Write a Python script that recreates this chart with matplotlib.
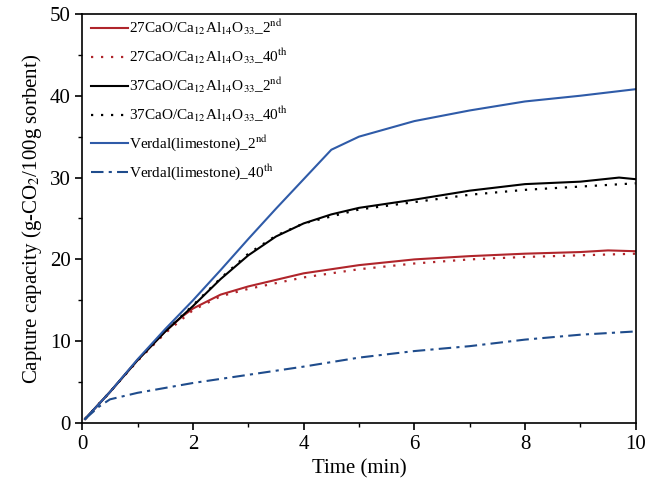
import matplotlib
matplotlib.use("Agg")
import matplotlib.pyplot as plt
from matplotlib.ticker import MultipleLocator

plt.rcParams['font.family'] = ['Liberation Serif', 'DejaVu Serif']
plt.rcParams['mathtext.fontset'] = 'stix'

# time axis (min) for each series
t_27_2nd = [0.05, 0.5, 1.0, 1.5, 1.8, 2.0, 2.5, 3.0, 3.5, 4.0, 4.5, 5.0, 6.0, 7.0, 8.0, 9.0, 9.5, 10.0]
cap_27_2nd = [0.5, 3.8, 7.7, 11.2, 13.0, 14.0, 15.7, 16.7, 17.5, 18.3, 18.8, 19.3, 20.0, 20.4, 20.7, 20.9, 21.1, 21.0]

t_27_40th = [0.05, 0.5, 1.0, 1.5, 2.0, 2.5, 3.0, 3.5, 4.0, 5.0, 6.0, 7.0, 8.0, 9.0, 10.0]
cap_27_40th = [0.5, 3.8, 7.6, 11.0, 13.8, 15.5, 16.4, 17.1, 17.8, 18.8, 19.5, 20.0, 20.3, 20.5, 20.7]

t_37_2nd = [0.05, 0.5, 1.0, 1.5, 2.0, 2.5, 3.0, 3.5, 4.0, 4.5, 5.0, 6.0, 7.0, 8.0, 9.0, 9.7, 10.0]
cap_37_2nd = [0.5, 3.8, 7.7, 11.2, 14.3, 17.6, 20.5, 22.8, 24.4, 25.5, 26.3, 27.3, 28.4, 29.2, 29.5, 30.0, 29.8]

t_37_40th = [0.05, 0.5, 1.0, 1.5, 2.0, 2.5, 3.0, 3.5, 4.0, 5.0, 6.0, 7.0, 8.0, 9.0, 10.0]
cap_37_40th = [0.5, 3.8, 7.7, 11.2, 14.4, 17.7, 20.7, 22.9, 24.4, 26.1, 27.0, 27.9, 28.5, 28.9, 29.3]

t_v_2nd = [0.05, 0.5, 1.0, 1.5, 2.0, 2.5, 3.0, 3.5, 4.0, 4.5, 5.0, 6.0, 7.0, 8.0, 9.0, 10.0]
cap_v_2nd = [0.5, 3.8, 7.8, 11.5, 15.0, 18.7, 22.5, 26.2, 29.8, 33.4, 35.0, 36.9, 38.2, 39.3, 40.0, 40.8]

t_v_40th = [0.05, 0.3, 0.5, 1.0, 2.0, 3.0, 4.0, 5.0, 6.0, 7.0, 8.0, 9.0, 10.0]
cap_v_40th = [0.5, 2.0, 2.9, 3.7, 4.9, 5.9, 6.9, 8.0, 8.8, 9.4, 10.2, 10.8, 11.2]

labels = [
    r'27CaO/Ca$_{12}$Al$_{14}$O$_{33}$_2$^{\mathrm{nd}}$',
    r'27CaO/Ca$_{12}$Al$_{14}$O$_{33}$_40$^{\mathrm{th}}$',
    r'37CaO/Ca$_{12}$Al$_{14}$O$_{33}$_2$^{\mathrm{nd}}$',
    r'37CaO/Ca$_{12}$Al$_{14}$O$_{33}$_40$^{\mathrm{th}}$',
    r'Verdal(limestone)_2$^{\mathrm{nd}}$',
    r'Verdal(limestone)_40$^{\mathrm{th}}$',
]

red = '#b0252b'
blue = '#2f5ba8'
dark_blue = '#1f4c8c'

fig = plt.figure(figsize=(6.48, 4.96), dpi=100)
ax = fig.add_axes([0.127, 0.147, 0.854, 0.825])

ax.plot(t_27_2nd, cap_27_2nd, color=red, lw=1.5, label=labels[0])
ax.plot(t_27_40th, cap_27_40th, color=red, lw=1.6, ls=(0, (1, 3.5)), label=labels[1])
ax.plot(t_37_2nd, cap_37_2nd, color='black', lw=1.5, label=labels[2])
ax.plot(t_37_40th, cap_37_40th, color='black', lw=1.6, ls=(0, (1, 3.5)), label=labels[3])
ax.plot(t_v_2nd, cap_v_2nd, color=blue, lw=1.5, label=labels[4])
ax.plot(t_v_40th, cap_v_40th, color=dark_blue, lw=1.5, ls=(0, (6, 2.5, 1.5, 2.5)), label=labels[5])

ax.set_xlim(0, 10)
ax.set_ylim(0, 50)
ax.xaxis.set_major_locator(MultipleLocator(2))
ax.xaxis.set_minor_locator(MultipleLocator(1))
ax.yaxis.set_major_locator(MultipleLocator(10))
ax.yaxis.set_minor_locator(MultipleLocator(5))
ax.tick_params(which='major', direction='out', length=5, width=1.2, labelsize=15)
ax.tick_params(which='minor', direction='out', length=3, width=1.0)
for s in ax.spines.values():
    s.set_linewidth(1.2)

ax.set_xlabel('Time (min)', fontsize=15)
ax.set_ylabel('Capture capacity (g-CO$_2$/100g sorbent)', fontsize=15)

ax.legend(loc='upper left', bbox_to_anchor=(0.005, 1.005), frameon=False, fontsize=11,
          handlelength=2.4, handletextpad=0.1, labelspacing=0.62, borderaxespad=0.0)

fig.savefig('out.png', dpi=100)
